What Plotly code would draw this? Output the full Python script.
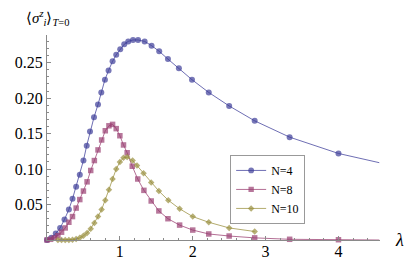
import plotly.graph_objects as go

# ---- data ----
n4_x = [0, 0.06, 0.12, 0.18, 0.24, 0.30, 0.35, 0.40, 0.45, 0.50, 0.545, 0.59, 0.645, 0.70,
        0.745, 0.795, 0.845, 0.90, 0.95, 1.005, 1.06, 1.115, 1.18, 1.25, 1.34, 1.435, 1.54,
        1.66, 1.81, 1.99, 2.22, 2.50, 2.85, 3.33, 4.00, 4.56]
n4_y = [0, 0.003, 0.009, 0.017, 0.029, 0.043, 0.058, 0.075, 0.092, 0.112, 0.133, 0.153,
        0.173, 0.191, 0.208, 0.226, 0.239, 0.252, 0.261, 0.269, 0.276, 0.280, 0.282, 0.282,
        0.280, 0.274, 0.266, 0.255, 0.242, 0.226, 0.208, 0.189, 0.168, 0.145, 0.122, 0.109]

n8_x = [0, 0.05, 0.10, 0.15, 0.20, 0.25, 0.30, 0.35, 0.40, 0.45, 0.50, 0.55, 0.60, 0.65,
        0.70, 0.75, 0.80, 0.85, 0.90, 0.95, 1.00, 1.05, 1.10, 1.17, 1.245, 1.33, 1.43,
        1.535, 1.66, 1.82, 2.00, 2.22, 2.50, 2.85, 3.33, 4.00, 4.56]
n8_y = [0, 0.001, 0.003, 0.006, 0.011, 0.017, 0.025, 0.033, 0.045, 0.057, 0.069, 0.082,
        0.098, 0.112, 0.127, 0.141, 0.154, 0.161, 0.163, 0.157, 0.147, 0.134, 0.123, 0.104,
        0.086, 0.070, 0.055, 0.041, 0.030, 0.021, 0.014, 0.0085, 0.0056, 0.003, 0.001,
        0.0004, 0.0]

n10_x = [0.15, 0.20, 0.25, 0.30, 0.35, 0.40, 0.45, 0.50, 0.55, 0.60, 0.65, 0.70, 0.75,
         0.80, 0.85, 0.90, 0.95, 1.00, 1.05, 1.10, 1.175, 1.235, 1.325, 1.43, 1.535, 1.665,
         1.82, 2.00, 2.22, 2.50, 2.85]
n10_y = [0, 0, 0, 0, 0.0005, 0.0015, 0.003, 0.006, 0.010, 0.016, 0.024, 0.033, 0.043,
         0.056, 0.071, 0.086, 0.100, 0.110, 0.116, 0.117, 0.112, 0.105, 0.094, 0.081, 0.069,
         0.056, 0.044, 0.033, 0.025, 0.017, 0.012]

series_names = ["N=4", "N=8", "N=10"]
x_ticks = [1, 2, 3, 4]
y_ticks = [0.05, 0.10, 0.15, 0.20, 0.25]
y_ticktext = ["0.05", "0.10", "0.15", "0.20", "0.25"]

# ---- styles ----
colors = ["#3d3d99", "#993d70", "#998f3d"]
line_colors = ["rgba(61,61,153,0.75)", "rgba(153,61,112,0.75)", "rgba(153,143,61,0.75)"]
symbols = ["circle", "square", "diamond"]
sizes = [6, 5.5, 5]

fig = go.Figure()
for xs, ys, name, c, lc, sym, sz in zip([n4_x, n8_x, n10_x], [n4_y, n8_y, n10_y],
                                       series_names, colors, line_colors, symbols, sizes):
    msize = [sz] * len(xs)
    if xs[-1] > 4.5:
        msize[-1] = 0
    fig.add_trace(go.Scatter(
        x=xs, y=ys, name=name, mode="lines+markers",
        line=dict(color=lc, width=1),
        marker=dict(color=c, symbol=sym, size=msize, line=dict(width=0)),
        cliponaxis=False,
    ))

axis_col = "#8a8a8a"
font_serif = "'Liberation Serif', 'Times New Roman', Times, serif"

fig.update_layout(
    width=415, height=259,
    margin=dict(l=39, r=43, t=27, b=27, autoexpand=False),
    paper_bgcolor="white", plot_bgcolor="white",
    font=dict(family=font_serif, size=16, color="black"),
    showlegend=True,
    legend=dict(
        x=0.55, y=0.415, xanchor="left", yanchor="top",
        bgcolor="white", bordercolor="#999999", borderwidth=1,
        font=dict(family=font_serif, size=12, color="black"),
        itemwidth=30, tracegroupgap=0,
    ),
    xaxis=dict(
        range=[0, 4.57], showgrid=False, zeroline=False, automargin=False,
        showline=True, linecolor=axis_col, linewidth=1,
        tickvals=x_ticks, ticks="inside", ticklen=4, tickcolor=axis_col,
        minor=dict(dtick=0.2, tick0=0, ticks="inside", ticklen=2, tickcolor=axis_col),
        tickfont=dict(size=16, family=font_serif), ticklabelstandoff=-3,
    ),
    yaxis=dict(
        range=[0, 0.289], showgrid=False, zeroline=False, automargin=False,
        showline=True, linecolor=axis_col, linewidth=1,
        tickvals=y_ticks, ticktext=y_ticktext, ticks="inside", ticklen=4, tickcolor=axis_col,
        minor=dict(dtick=0.01, tick0=0, ticks="inside", ticklen=2, tickcolor=axis_col),
        tickfont=dict(size=16, family=font_serif),
    ),
    annotations=[
        dict(text="<i>λ</i>", xref="paper", yref="paper", x=1.04, y=0.0,
             xanchor="left", yanchor="middle", showarrow=False,
             font=dict(size=18, family=font_serif)),
        dict(text="⟨<i>σ</i><sup><i>z</i></sup><sub><i>i</i></sub>⟩<sub><i>T</i>=0</sub>",
             xref="paper", yref="paper", x=-0.07, y=1.085,
             xanchor="left", yanchor="middle", showarrow=False,
             font=dict(size=15, family=font_serif)),
    ],
)

fig.write_html("out.html")
